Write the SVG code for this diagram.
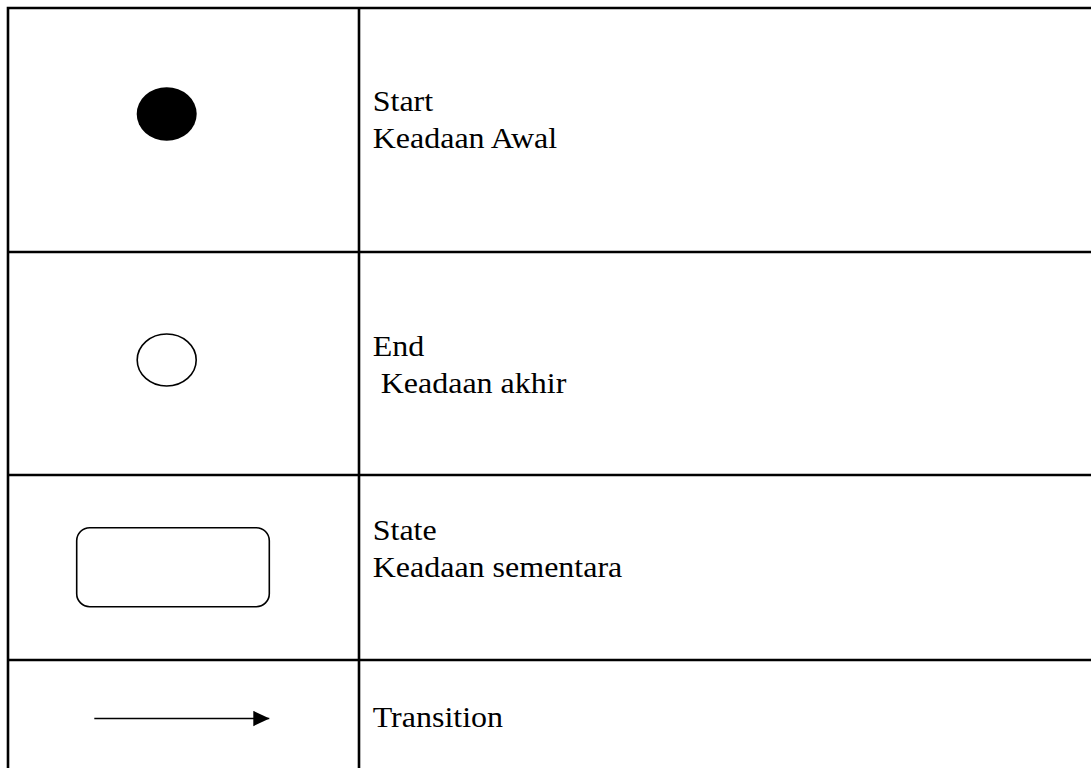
<svg xmlns="http://www.w3.org/2000/svg" width="1091" height="768" viewBox="0 0 1091 768">
<style>
.grid{stroke:#000;stroke-width:2.6;fill:none}
.lbl{font-family:"Liberation Serif","Times New Roman",serif;font-size:32px;fill:#000}
.sym{stroke:#000;stroke-width:1.6;fill:#fff}
</style>
<defs>
<marker id="arr" markerWidth="16" markerHeight="16" refX="16" refY="7.7" orient="auto" markerUnits="userSpaceOnUse">
<path d="M0,0 L16,7.7 L0,15.4 Z" fill="#000"/>
</marker>
</defs>
<rect width="1091" height="768" fill="#fff"/>
<g id="table">
<path class="grid" d="M8,768 V8 H1091 M359,8 V768 M8,252 H1091 M8,475 H1091 M8,660 H1091"/>
</g>
<g id="start">
<ellipse cx="166.7" cy="114" rx="30" ry="26.7" fill="#000"/>
<text class="lbl" transform="translate(372.7,110.7) scale(1,0.9)">Start</text>
<text class="lbl" transform="translate(372.7,147.7) scale(1,0.9)">Keadaan Awal</text>
</g>
<g id="end">
<ellipse class="sym" cx="166.7" cy="360" rx="29.5" ry="26"/>
<text class="lbl" transform="translate(372.7,356) scale(1,0.9)">End</text>
<text class="lbl" xml:space="preserve" transform="translate(372.7,393) scale(1,0.9)"> Keadaan akhir</text>
</g>
<g id="state">
<rect class="sym" x="76.7" y="527.7" width="192.6" height="79" rx="13" ry="13"/>
<text class="lbl" transform="translate(372.7,540) scale(1,0.9)">State</text>
<text class="lbl" transform="translate(372.7,576.7) scale(1,0.9)">Keadaan sementara</text>
</g>
<g id="transition">
<text class="lbl" transform="translate(372.7,726.7) scale(1,0.9)">Transition</text>
</g>
<g id="connectors">
<line x1="94.3" y1="718.5" x2="269.3" y2="718.5" stroke="#000" stroke-width="1.7" marker-end="url(#arr)"/>
</g>
</svg>
